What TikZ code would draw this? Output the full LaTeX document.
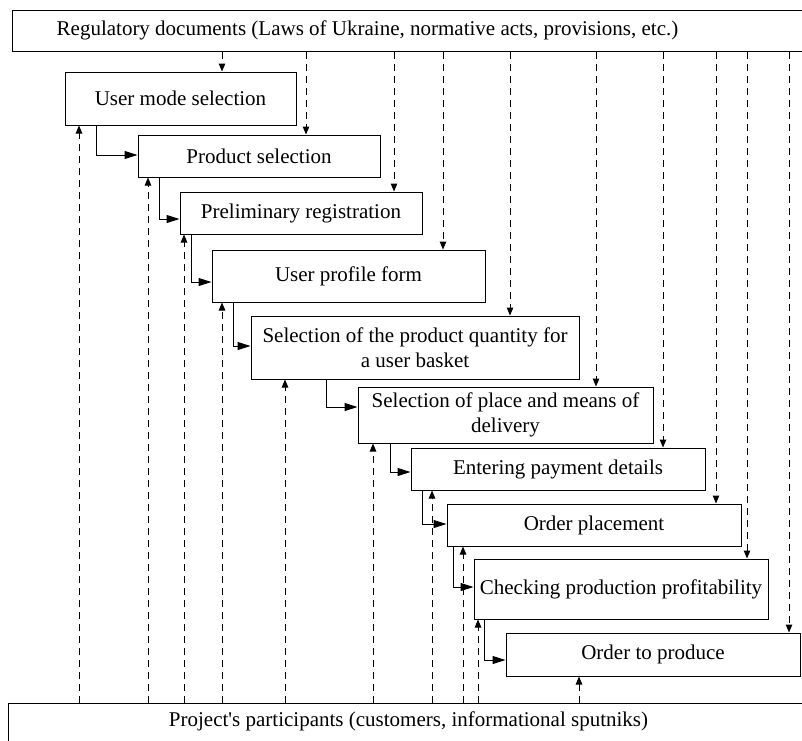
\documentclass[tikz,border=0pt]{standalone}
\usepackage{fontspec}
\setmainfont{Liberation Serif}[Ligatures=TeXOff]
\usetikzlibrary{arrows.meta,calc}
\begin{document}
\begin{tikzpicture}[x=1pt,y=-1pt,
  box/.style={draw,line width=1pt,inner sep=0pt,align=center,
    font=\fontsize{21}{25}\selectfont},
  txt/.style={inner sep=0pt,font=\fontsize{21}{25}\selectfont},
  darr/.style={line width=1pt,dash pattern=on 7pt off 5pt,
    -{Triangle[length=8pt,width=6.5pt]}},
  sarr/.style={line width=1pt,-{Triangle[length=13pt,width=8pt]}}]
\useasboundingbox (0,0) rectangle (802,740);
\clip (0,0) rectangle (802,740);
\fill[white] (0,0) rectangle (802,740);
% frame boxes
\node[box,anchor=north west,minimum width=830pt,minimum height=41pt] (reg) at (12,10) {};
\node[txt] (regt) at (367.5,30.5) {Regulatory documents (Laws of Ukraine, normative acts, provisions, etc.)};
\node[box,anchor=north west,minimum width=830pt,minimum height=60pt] (part) at (8,703) {};
\node[txt] (partt) at (408.5,721) {Project's participants (customers, informational sputniks)};
% step boxes
\node[box,minimum width=231pt,minimum height=53pt] (b1) at (180.5,98.5) {User mode selection};
\node[box,minimum width=242pt,minimum height=42pt] (b2) at (259,156) {Product selection};
\node[box,minimum width=242pt,minimum height=42pt] (b3) at (301,213) {Preliminary registration};
\node[box,minimum width=273pt,minimum height=52pt] (b4) at (348.5,276) {User profile form};
\node[box,minimum width=328pt,minimum height=63pt] (b5) at (415,347.5) {Selection of the product quantity for\\a user basket};
\node[box,minimum width=295pt,minimum height=56pt] (b6) at (505.5,415) {Selection of place and means of\\delivery};
\node[box,minimum width=294pt,minimum height=42pt] (b7) at (558,469) {Entering payment details};
\node[box,minimum width=294pt,minimum height=42pt] (b8) at (594,525) {Order placement};
\node[box,minimum width=294pt,minimum height=60pt] (b9) at (621,589) {Checking production profitability};
\node[box,minimum width=294pt,minimum height=43pt] (b10) at (653,654.5) {Order to produce};
% dashed arrows from the regulatory documents
\foreach \i/\x in {1/222,2/306,3/394,4/443,5/510,6/596,7/663,8/716,9/747,10/789}{
  \coordinate (d\i) at (\x,0);
  \draw[darr] (reg.south -| d\i) -- (b\i.north -| d\i);
}
% dashed arrows from the participants
\foreach \i/\x in {1/79,2/148,3/184,4/222,5/285,6/373,7/432,8/463,9/478,10/579}{
  \coordinate (u\i) at (\x,0);
  \draw[darr] (part.north -| u\i) -- (b\i.south -| u\i);
}
% solid connectors between steps
\foreach \i/\j/\x/\y in {1/2/96/155,2/3/159/219,3/4/191/282,4/5/233/346,5/6/326/407,6/7/390/472,7/8/422/524,8/9/453/587,9/10/484/660}{
  \coordinate (s\i) at (\x,\y);
  \draw[sarr] (b\i.south -| s\i) |- (b\j.west |- s\i);
}
\end{tikzpicture}
\end{document}
